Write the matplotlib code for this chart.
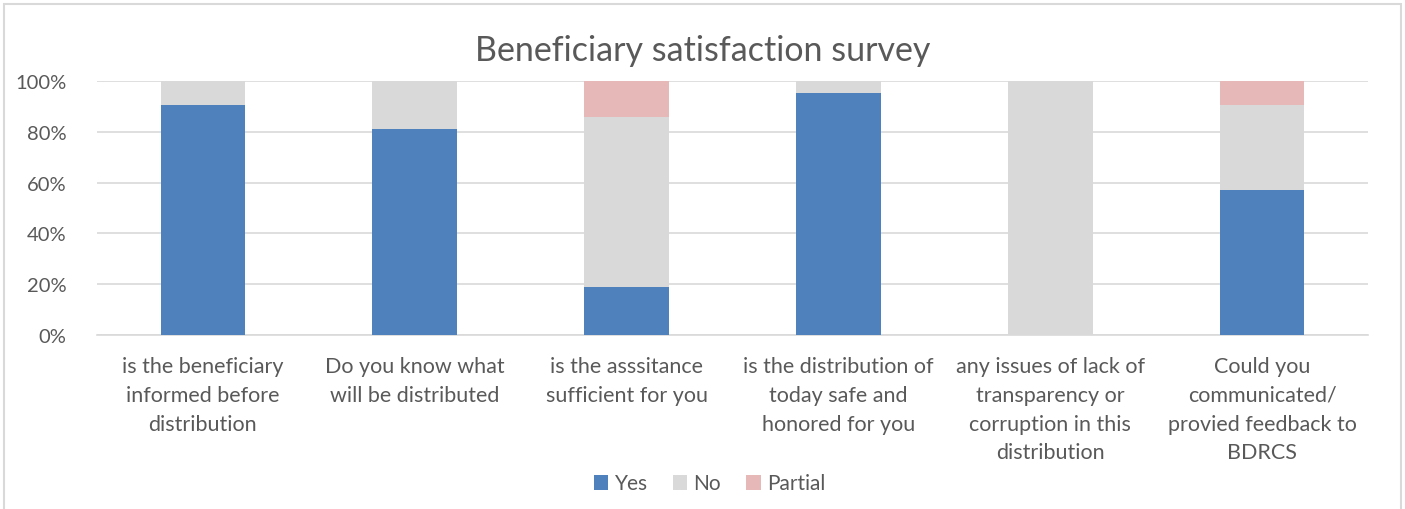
import matplotlib.pyplot as plt
from matplotlib.patches import Rectangle
from matplotlib.ticker import PercentFormatter
import numpy as np

categories = [
    'is the beneficiary\ninformed before\ndistribution',
    'Do you know what\nwill be distributed',
    'is the asssitance\nsufficient for you',
    'is the distribution of\ntoday safe and\nhonored for you',
    'any issues of lack of\ntransparency or\ncorruption in this\ndistribution',
    'Could you\ncommunicated/\nprovied feedback to\nBDRCS',
]
yes = [90.5, 81.0, 19.0, 95.2, 0.0, 57.1]
no = [9.5, 19.0, 66.7, 4.8, 100.0, 33.4]
partial = [0.0, 0.0, 14.3, 0.0, 0.0, 9.5]

plt.rcParams['font.family'] = ['Lato', 'DejaVu Sans']
text_color = '#595959'

fig = plt.figure(figsize=(14.05, 5.10), dpi=100)
ax = fig.add_axes([0.069, 0.341, 0.9047, 0.498])

x = np.arange(len(categories))
w = 0.4
yes = np.array(yes)
no = np.array(no)
partial = np.array(partial)
ax.bar(x, yes, w, color='#4f81bd', label='Yes', zorder=3)
ax.bar(x, no, w, bottom=yes, color='#d9d9d9', label='No', zorder=3)
ax.bar(x, partial, w, bottom=yes + no, color='#e6b9b8', label='Partial', zorder=3)

ax.set_xlim(-0.5, len(categories) - 0.5)
ax.set_ylim(0, 100)
ax.set_yticks(range(0, 101, 20))
ax.yaxis.set_major_formatter(PercentFormatter(decimals=0))
ax.grid(axis='y', color='#d9d9d9', linewidth=1.2, zorder=0)
for s in ['top', 'right', 'left']:
    ax.spines[s].set_visible(False)
ax.spines['bottom'].set_color('#d9d9d9')
ax.spines['bottom'].set_linewidth(1.2)
ax.tick_params(axis='y', length=0, labelsize=14.5, colors=text_color, pad=22)
ax.tick_params(axis='x', length=0, labelsize=15.5, colors=text_color, pad=15)
ax.set_xticks(x)
ax.set_xticklabels(categories, linespacing=1.55)

fig.text(0.5, 0.9, 'Beneficiary satisfaction survey', ha='center', va='center',
         fontsize=24.5, color=text_color)

fig.legend(loc='center', bbox_to_anchor=(0.505, 0.05), ncol=3, frameon=False,
           fontsize=15, handlelength=0.7, handleheight=0.7, handletextpad=0.3,
           columnspacing=1.2, labelcolor=text_color)

fig.patches.append(Rectangle((4 / 1405, -0.05), 1397 / 1405, 1.04 - 5 / 510 + 0.01,
                             transform=fig.transFigure, fill=False,
                             edgecolor='#d9d9d9', linewidth=1.5))

fig.savefig('out.png', dpi=100)
